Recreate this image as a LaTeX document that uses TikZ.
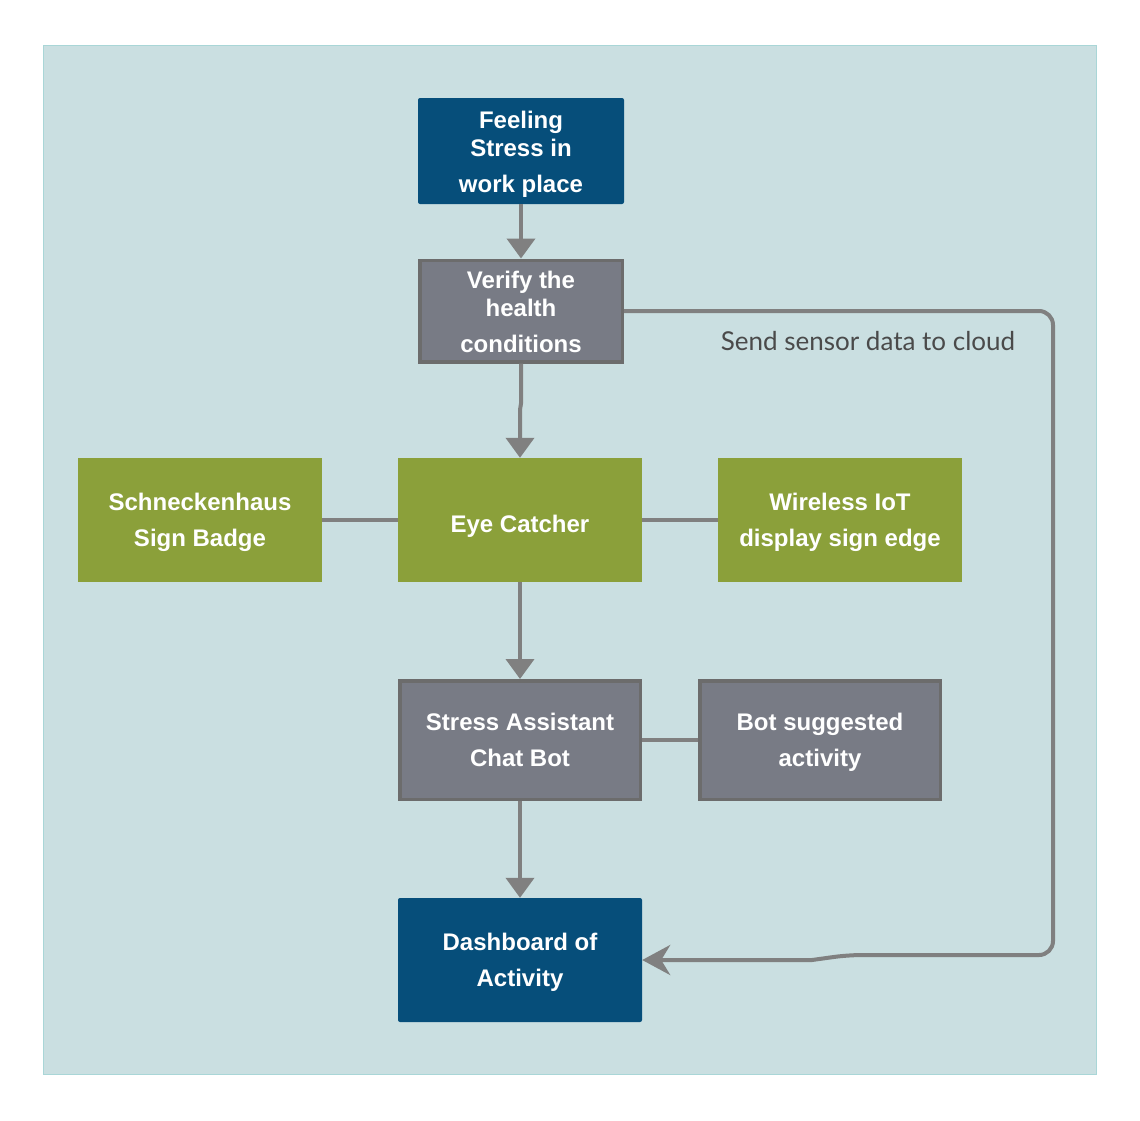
\documentclass[tikz,border=0pt]{standalone}
\usepackage{fontspec}
\setmainfont{Liberation Sans}
\newfontfamily\labelfont{Lato}
\usetikzlibrary{arrows.meta}
\definecolor{panel}{HTML}{CADFE1}
\definecolor{panelborder}{HTML}{A9D6D7}
\definecolor{darkblue}{HTML}{064E7A}
\definecolor{boxgray}{HTML}{787B85}
\definecolor{boxgrayborder}{HTML}{6C6C6C}
\definecolor{leafgreen}{HTML}{8BA03A}
\definecolor{linegray}{HTML}{808080}
\definecolor{labelgray}{HTML}{4A4A4A}
\newcommand\shiftdown[1]{\rule{0pt}{#1}}
\tikzset{
  base/.style={inner sep=0pt, align=center, text=white, font=\bfseries\fontsize{24}{36}\selectfont},
  bluebox/.style={base, fill=darkblue, rounded corners=2pt},
  graybox/.style={base, fill=boxgray, draw=boxgrayborder, line width=3.5pt},
  greenbox/.style={base, fill=leafgreen},
  conn/.style={draw=linegray, line width=4pt},
  arr/.style={conn, -{Triangle[length=20pt,width=28pt]}},
}
\begin{document}
\begin{tikzpicture}[x=1pt,y=-1pt]
\useasboundingbox (0,0) rectangle (1140,1120);
\fill[panel] (43,45) rectangle (1097,1075);
\draw[panelborder, line width=1pt] (43.5,45.5) rectangle (1096.5,1074.5);

\node[bluebox, minimum width=206pt, minimum height=106pt, font=\bfseries\fontsize{24}{28}\selectfont] (feel) at (521,151) {\shiftdown{23.5pt}Feeling\\Stress in\\[8pt]work place};
\node[graybox, minimum width=202.5pt, minimum height=101.5pt, font=\bfseries\fontsize{24}{28}\selectfont] (verify) at (521,311) {\shiftdown{20pt}Verify the\\health\\[8pt]conditions};
\node[greenbox, minimum width=244pt, minimum height=124pt] (eye) at (520,520) {\shiftdown{29pt}Eye Catcher};
\node[greenbox, minimum width=244pt, minimum height=124pt] (badge) at (200,520) {\shiftdown{21.5pt}Schneckenhaus\\Sign Badge};
\node[greenbox, minimum width=244pt, minimum height=124pt] (wireless) at (840,520) {\shiftdown{21.5pt}Wireless IoT\\display sign edge};
\node[graybox, minimum width=240.5pt, minimum height=118.5pt] (chat) at (520,740) {Stress Assistant\\Chat Bot};
\node[graybox, minimum width=240.5pt, minimum height=118.5pt] (botact) at (820,740) {\shiftdown{21.5pt}Bot suggested\\activity};
\node[bluebox, minimum width=244pt, minimum height=124pt] (dash) at (520,960) {\shiftdown{21.5pt}Dashboard of\\Activity};

\draw[arr] (feel.south) -- (verify.north);
\draw[arr] (verify.south) -- ++(0,40) -- ([yshift=48pt]eye.north) -- (eye.north);
\draw[conn] (badge.east) -- (eye.west);
\draw[conn] (eye.east) -- (wireless.west);
\draw[arr] (eye.south) -- (chat.north);
\draw[conn] (chat.east) -- (botact.west);
\draw[arr] (chat.south) -- (dash.north);

\coordinate (c1) at (1053,311);
\coordinate (c2) at (1053,955);
\coordinate (c3) at (848,955);
\coordinate (c4) at (812,960);
\draw[conn, -{Stealth[length=28pt,width=30pt,inset=9pt]}, rounded corners=14pt]
  (verify.east) -- (c1) -- (c2) -- (c3) [rounded corners=0pt] -- (c4) -- (dash.east);
\node[font=\labelfont\fontsize{26}{30}\selectfont, text=labelgray, inner sep=0pt] (lbl) at (868,341) {Send sensor data to cloud};
\end{tikzpicture}
\end{document}
